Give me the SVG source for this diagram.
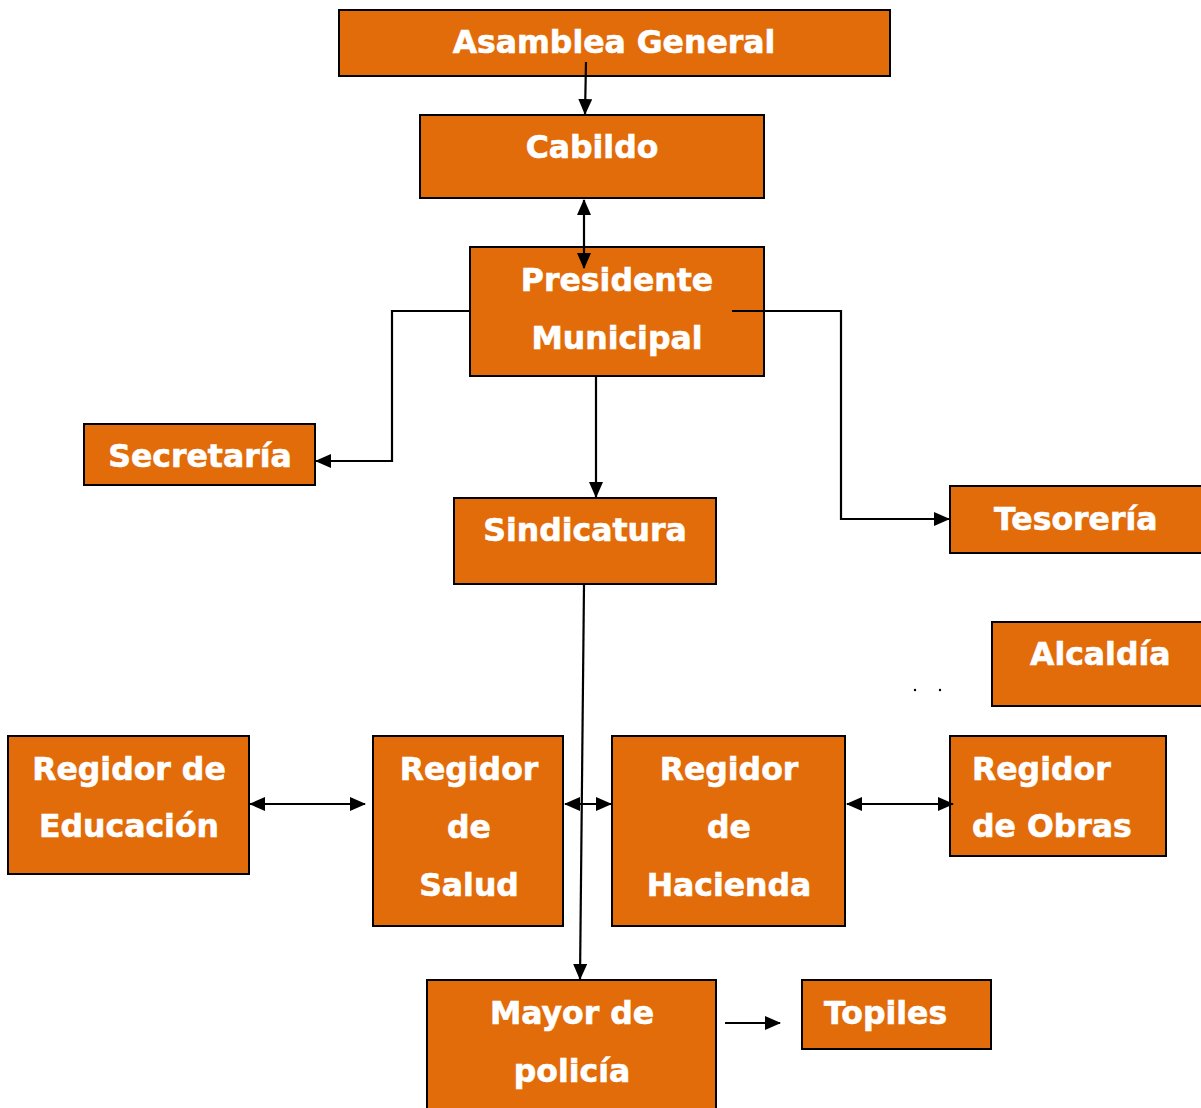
<svg xmlns="http://www.w3.org/2000/svg" width="1201" height="1108" viewBox="0 0 1201 1108">
<style>
.box{fill:#E36C0A;stroke:#000;stroke-width:2}
.t{font-family:"DejaVu Sans","Liberation Sans",sans-serif;font-weight:bold;font-size:31.5px;fill:#fff;stroke:#fff;stroke-width:0.6}
.c{text-anchor:middle}
.ln{fill:none;stroke:#000;stroke-width:2.2}
</style>
<defs>
<marker id="ah" markerUnits="userSpaceOnUse" viewBox="0 0 16 14" markerWidth="16" markerHeight="14" refX="15" refY="7" orient="auto-start-reverse">
<path d="M0,0 L16,7 L0,14 Z" fill="#000"/>
</marker>
</defs>
<rect width="1201" height="1108" fill="#fff"/>
<g id="asamblea"><rect class="box" x="339" y="10" width="551" height="66"/><text class="t c" x="614" y="53">Asamblea General</text></g>
<g id="cabildo"><rect class="box" x="420" y="115" width="344" height="83"/><text class="t c" x="592" y="158">Cabildo</text></g>
<g id="presidente"><rect class="box" x="470" y="247" width="294" height="129"/><text class="t c" x="617" y="291">Presidente</text><text class="t c" x="617" y="349">Municipal</text></g>
<g id="secretaria"><rect class="box" x="84" y="424" width="231" height="61"/><text class="t c" x="200" y="467">Secretaría</text></g>
<g id="sindicatura"><rect class="box" x="454" y="498" width="262" height="86"/><text class="t c" x="585" y="541">Sindicatura</text></g>
<g id="tesoreria"><rect class="box" x="950" y="486" width="254" height="67"/><text class="t" x="994" y="530">Tesorería</text></g>
<g id="alcaldia"><rect class="box" x="992" y="622" width="212" height="84"/><text class="t" x="1030" y="665">Alcaldía</text></g>
<g id="dots"><circle cx="915" cy="690" r="1.2" fill="#000"/><circle cx="940" cy="690" r="1.2" fill="#000"/></g>
<g id="educacion"><rect class="box" x="8" y="736" width="241" height="138"/><text class="t c" x="129" y="780">Regidor de</text><text class="t c" x="129" y="837">Educación</text></g>
<g id="salud"><rect class="box" x="373" y="736" width="190" height="190"/><text class="t c" x="469" y="780">Regidor</text><text class="t c" x="469" y="838">de</text><text class="t c" x="469" y="896">Salud</text></g>
<g id="hacienda"><rect class="box" x="612" y="736" width="233" height="190"/><text class="t c" x="729" y="780">Regidor</text><text class="t c" x="729" y="838">de</text><text class="t c" x="729" y="896">Hacienda</text></g>
<g id="obras"><rect class="box" x="950" y="736" width="216" height="120"/><text class="t" x="972" y="780">Regidor</text><text class="t" x="972" y="837">de Obras</text></g>
<g id="mayor"><rect class="box" x="427" y="980" width="289" height="140"/><text class="t c" x="572" y="1024">Mayor de</text><text class="t c" x="572" y="1082">policía</text></g>
<g id="topiles"><rect class="box" x="802" y="980" width="189" height="69"/><text class="t" x="824" y="1024">Topiles</text></g>
<g id="connectors">
<path class="ln" d="M586,62 L585,114" marker-end="url(#ah)"/>
<path class="ln" d="M584,200 L584,268" marker-start="url(#ah)" marker-end="url(#ah)"/>
<path class="ln" d="M470,311 L392,311 L392,461 L316,461" marker-end="url(#ah)"/>
<path class="ln" d="M732,311 L841,311 L841,519 L949,519" marker-end="url(#ah)"/>
<path class="ln" d="M596,377 L596,497" marker-end="url(#ah)"/>
<path class="ln" d="M584,585 L580,979" marker-end="url(#ah)"/>
<path class="ln" d="M250,804 L365,804" marker-start="url(#ah)" marker-end="url(#ah)"/>
<path class="ln" d="M565,804 L611,804" marker-start="url(#ah)" marker-end="url(#ah)"/>
<path class="ln" d="M847,804 L953,804" marker-start="url(#ah)" marker-end="url(#ah)"/>
<path class="ln" d="M725,1023 L780,1023" marker-end="url(#ah)"/>
</g>
</svg>
